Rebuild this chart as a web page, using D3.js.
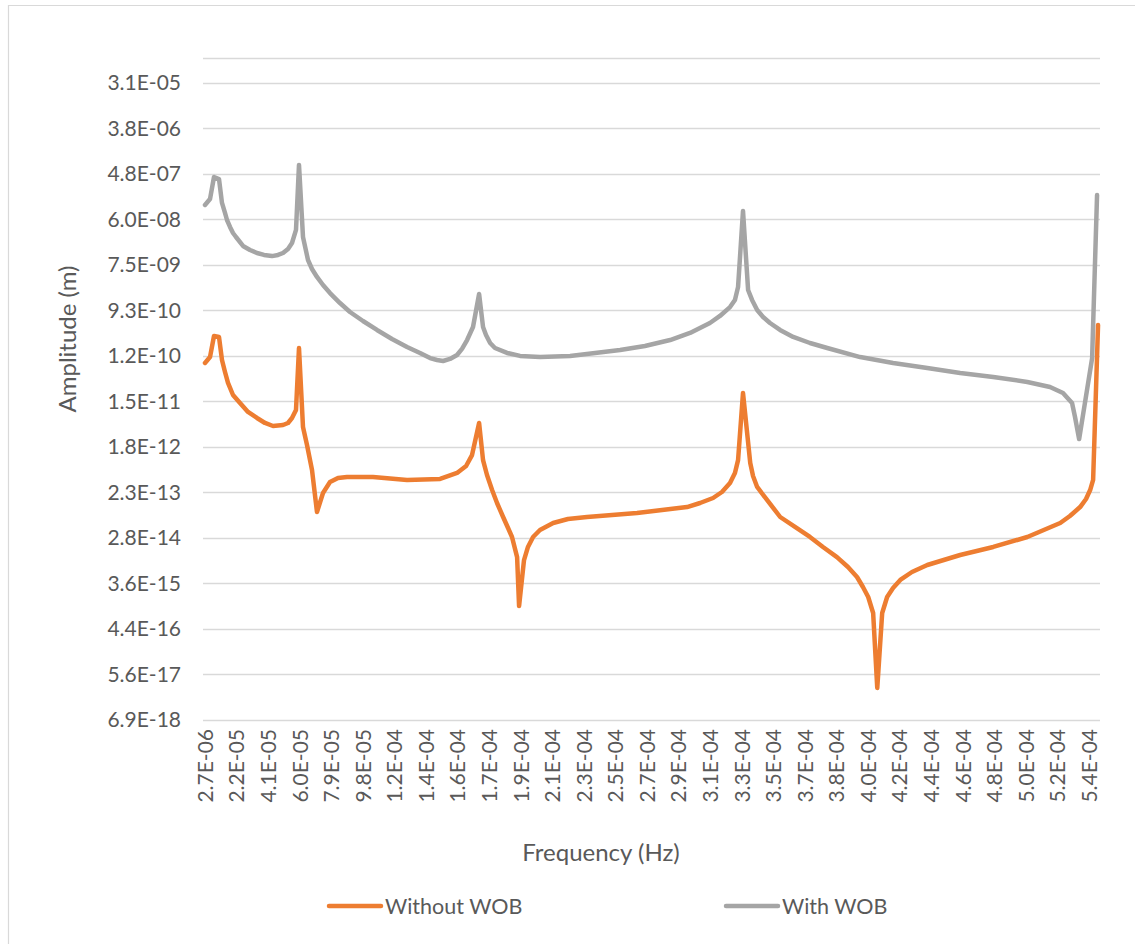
<!DOCTYPE html>
<html>
<head>
<meta charset="utf-8">
<script src="https://cdn.jsdelivr.net/npm/d3@7"></script>
<style>
  html, body { margin: 0; padding: 0; background: #fff; }
  svg { display: block; }
  text { font-family: "Lato", "Open Sans", sans-serif; fill: #595959; }
</style>
</head>
<body>
<svg id="chart" width="1135" height="944"></svg>
<script>
// ---- Data (frequency in Hz, amplitude in m) ----
const withWobFreq = [2.7e-6, 5.74e-6, 8.17e-6, 11.21e-6, 13.03e-6, 14.86e-6, 16.07e-6, 17.90e-6, 19.72e-6, 21.54e-6,
  25.80e-6, 30.05e-6, 34.31e-6, 38.56e-6, 43.44e-6, 47.07e-6, 50.11e-6, 53.15e-6, 55.58e-6, 58.01e-6,
  59.83e-6, 62.26e-6, 65.30e-6, 67.73e-6, 70.77e-6, 74.42e-6, 78.68e-6, 84.75e-6, 90.83e-6, 98.73e-6,
  107.24e-6, 116.36e-6, 125.5e-6, 133.38e-6, 139.5e-6, 143.71e-6, 147.4e-6, 151.61e-6, 155.9e-6, 158.9e-6,
  162.0e-6, 165.6e-6, 169.3e-6, 171.7e-6, 173.5e-6, 176.0e-6, 178.96e-6, 186.3e-6, 194.2e-6, 206.4e-6,
  224.6e-6, 255.0e-6, 270.1e-6, 285.4e-6, 297.5e-6, 309.6e-6, 315.7e-6, 321.8e-6, 324.8e-6, 326.7e-6,
  329.7e-6, 332.8e-6, 335.2e-6, 338.3e-6, 341.9e-6, 346.1e-6, 352.2e-6, 360.2e-6, 370.4e-6, 380.9e-6,
  400.9e-6, 420.9e-6, 441.7e-6, 461.7e-6, 481.8e-6, 502.5e-6, 516.3e-6, 524.2e-6, 529.7e-6, 531.5e-6,
  534.0e-6, 541.9e-6, 544.9e-6];
const withWobAmp = [1.16e-7, 1.52e-7, 4.16e-7, 3.80e-7, 1.27e-7, 8.04e-8, 5.83e-8, 4.24e-8, 3.22e-8, 2.68e-8,
  1.78e-8, 1.48e-8, 1.29e-8, 1.18e-8, 1.12e-8, 1.18e-8, 1.29e-8, 1.55e-8, 2.04e-8, 3.70e-8,
  7.21e-7, 2.69e-8, 9.38e-9, 6.21e-9, 4.32e-9, 2.99e-9, 2.07e-9, 1.31e-9, 8.71e-10, 5.77e-10,
  3.83e-10, 2.54e-10, 1.76e-10, 1.34e-10, 1.06e-10, 9.71e-11, 9.27e-11, 1.02e-10, 1.22e-10, 1.61e-10,
  2.42e-10, 4.39e-10, 1.98e-9, 4.39e-10, 3.05e-10, 2.11e-10, 1.68e-10, 1.34e-10, 1.17e-10, 1.11e-10,
  1.17e-10, 1.53e-10, 1.84e-10, 2.42e-10, 3.34e-10, 5.27e-10, 7.26e-10, 1.09e-9, 1.51e-9, 2.73e-9,
  8.81e-8, 2.38e-9, 1.51e-9, 9.55e-10, 6.93e-10, 5.27e-10, 3.83e-10, 2.78e-10, 2.11e-10, 1.68e-10,
  1.11e-10, 8.47e-11, 6.73e-11, 5.36e-11, 4.47e-11, 3.56e-11, 2.83e-11, 2.15e-11, 1.36e-11, 7.18e-12,
  2.62e-12, 1.06e-10, 1.83e-7];

const withoutWobFreq = [2.7e-6, 5.74e-6, 8.17e-6, 11.21e-6, 13.03e-6, 14.86e-6, 16.68e-6, 19.72e-6, 23.98e-6, 28.84e-6,
  34.31e-6, 39.17e-6, 44.04e-6, 50.11e-6, 53.15e-6, 55.58e-6, 58.01e-6, 59.83e-6, 62.26e-6, 64.70e-6,
  67.74e-6, 70.77e-6, 74.42e-6, 78.68e-6, 83.54e-6, 89.01e-6, 104.8e-6, 125.5e-6, 145.6e-6, 155.9e-6,
  161.4e-6, 165.0e-6, 169.3e-6, 171.7e-6, 174.1e-6, 177.2e-6, 180.2e-6, 183.9e-6, 186.9e-6, 189.3e-6,
  192.4e-6, 193.6e-6, 196.6e-6, 199.0e-6, 202.1e-6, 206.3e-6, 214.3e-6, 223.3e-6, 234.9e-6, 265.3e-6,
  295.7e-6, 303.6e-6, 311.5e-6, 316.9e-6, 321.8e-6, 324.8e-6, 326.7e-6, 329.7e-6, 334.1e-6, 335.8e-6,
  338.3e-6, 344.3e-6, 352.3e-6, 361.3e-6, 370.4e-6, 378.3e-6, 386.8e-6, 393.5e-6, 399.0e-6, 402.6e-6,
  405.8e-6, 408.8e-6, 411.3e-6, 414.3e-6, 417.3e-6, 420.9e-6, 425.3e-6, 432.4e-6, 441.7e-6, 461.7e-6,
  481.8e-6, 502.5e-6, 522.5e-6, 528.4e-6, 534.6e-6, 538.2e-6, 540.7e-6, 542.5e-6, 545.5e-6];
const withoutWobAmp = [8.47e-11, 1.11e-10, 2.91e-10, 2.78e-10, 9.70e-11, 5.61e-11, 3.40e-11, 1.96e-11, 1.36e-11, 9.02e-12,
  6.86e-12, 5.46e-12, 4.75e-12, 4.98e-12, 5.46e-12, 6.86e-12, 9.89e-12, 1.68e-10, 4.54e-12, 2.00e-12,
  6.37e-13, 9.33e-14, 2.23e-13, 3.68e-13, 4.42e-13, 4.62e-13, 4.62e-13, 4.04e-13, 4.22e-13, 5.56e-13,
  7.64e-13, 1.26e-12, 5.46e-12, 1.00e-12, 5.07e-13, 2.55e-13, 1.41e-13, 7.43e-14, 4.50e-14, 2.98e-14,
  1.19e-14, 1.27e-15, 1.04e-14, 1.89e-14, 2.98e-14, 4.10e-14, 5.65e-14, 6.79e-14, 7.43e-14, 8.93e-14,
  1.17e-13, 1.41e-13, 1.77e-13, 2.33e-13, 3.52e-13, 5.56e-13, 1.00e-12, 2.15e-11, 8.77e-13, 4.84e-13,
  2.93e-13, 1.62e-13, 7.43e-14, 4.71e-14, 2.98e-14, 1.89e-14, 1.19e-14, 7.56e-15, 4.79e-15, 3.03e-15,
  1.92e-15, 9.25e-16, 3.00e-17, 9.25e-16, 1.92e-15, 2.90e-15, 4.18e-15, 6.02e-15, 8.28e-15, 1.31e-14,
  1.89e-14, 2.98e-14, 5.65e-14, 7.78e-14, 1.17e-13, 1.69e-13, 2.55e-13, 4.04e-13, 4.81e-10];

const xTickLabels = ["2.7E-06","2.2E-05","4.1E-05","6.0E-05","7.9E-05","9.8E-05","1.2E-04","1.4E-04","1.6E-04","1.7E-04",
  "1.9E-04","2.1E-04","2.3E-04","2.5E-04","2.7E-04","2.9E-04","3.1E-04","3.3E-04","3.5E-04","3.7E-04",
  "3.8E-04","4.0E-04","4.2E-04","4.4E-04","4.6E-04","4.8E-04","5.0E-04","5.2E-04","5.4E-04"];
const xFirstTick = 2.7e-6, xLastTick = 5.4e-4;

const yTickValues = [3.06e-5, 3.82e-6, 4.78e-7, 5.97e-8, 7.46e-9, 9.33e-10, 1.166e-10, 1.457e-11, 1.822e-12,
  2.277e-13, 2.847e-14, 3.559e-15, 4.449e-16, 5.56e-17, 6.95e-18];
const yTickLabels = ["3.1E-05","3.8E-06","4.8E-07","6.0E-08","7.5E-09","9.3E-10","1.2E-10","1.5E-11","1.8E-12",
  "2.3E-13","2.8E-14","3.6E-15","4.4E-16","5.6E-17","6.9E-18"];
const yMin = 6.95e-18, yMax = 9.57e-5;

const seriesNames = ["Without WOB", "With WOB"];
const seriesColors = ["#ED7D31", "#A5A5A5"];

// ---- Layout ----
const FONT = "Lato, 'Open Sans', sans-serif";
const svg = d3.select("#chart");
const plot = { left: 203, right: 1100, top: 58, bottom: 720 };

const x = d3.scaleLinear().domain([xFirstTick, xLastTick]).range([205, 1089]);
const y = d3.scaleLog().base(8).domain([yMin, yMax]).range([plot.bottom, plot.top]);

// outer border (top/left visible)
svg.append("path").attr("d", "M8.5,944 L8.5,5.5 L1135,5.5")
  .attr("fill", "none").attr("stroke", "#D9D9D9").attr("stroke-width", 1.2);

// gridlines
const gridVals = [yMax].concat(yTickValues);
svg.append("g").selectAll("line").data(gridVals).join("line")
  .attr("x1", plot.left).attr("x2", plot.right)
  .attr("y1", d => Math.round(y(d)) + 0.5).attr("y2", d => Math.round(y(d)) + 0.5)
  .attr("stroke", "#D9D9D9").attr("stroke-width", 1.3);

// y axis labels
const yAxis = d3.axisLeft(y).tickValues(yTickValues)
  .tickFormat((d, i) => yTickLabels[i]).tickSize(0).tickPadding(0);
const yg = svg.append("g").attr("transform", "translate(181,0)").call(yAxis);
yg.select(".domain").remove();
yg.selectAll("text").attr("font-size", 21).attr("fill", "#595959").style("font-family", FONT);

// x axis labels
const xTickValues = xTickLabels.map((_, i) => xFirstTick + i * (xLastTick - xFirstTick) / (xTickLabels.length - 1));
const xAxis = d3.axisBottom(x).tickValues(xTickValues)
  .tickFormat((d, i) => xTickLabels[i]).tickSize(0).tickPadding(0);
const xg = svg.append("g").attr("transform", `translate(0,${plot.bottom})`).call(xAxis);
xg.select(".domain").remove();
xg.selectAll("text")
  .attr("font-size", 21).attr("fill", "#595959").style("font-family", FONT)
  .attr("text-anchor", "end")
  .attr("dy", "0.35em")
  .attr("transform", "translate(0,9) rotate(-90)")
  .attr("y", 0).attr("x", 0);

// axis titles
svg.append("text").attr("x", 601).attr("y", 861).attr("text-anchor", "middle")
  .attr("font-size", 24).text("Frequency (Hz)");
svg.append("text").attr("transform", "translate(76,339) rotate(-90)").attr("text-anchor", "middle")
  .attr("font-size", 24).text("Amplitude (m)");

// lines
const line = d3.line().x(d => x(d[0])).y(d => y(d[1]));
const series = [
  d3.zip(withoutWobFreq, withoutWobAmp),
  d3.zip(withWobFreq, withWobAmp)
];
series.forEach((s, i) => {
  svg.append("path").datum(s).attr("d", line)
    .attr("fill", "none").attr("stroke", seriesColors[i]).attr("stroke-width", 4.5)
    .attr("stroke-linejoin", "round").attr("stroke-linecap", "round");
});

// legend
const legendX = [329, 726];
seriesNames.forEach((name, i) => {
  const g = svg.append("g").attr("transform", `translate(${legendX[i]},906)`);
  g.append("line").attr("x1", 0).attr("x2", 52).attr("y1", 0).attr("y2", 0)
    .attr("stroke", seriesColors[i]).attr("stroke-width", 4.5).attr("stroke-linecap", "round");
  g.append("text").attr("x", 56).attr("y", 0).attr("dy", "0.35em").attr("font-size", 21.5).text(name);
});
</script>
</body>
</html>
